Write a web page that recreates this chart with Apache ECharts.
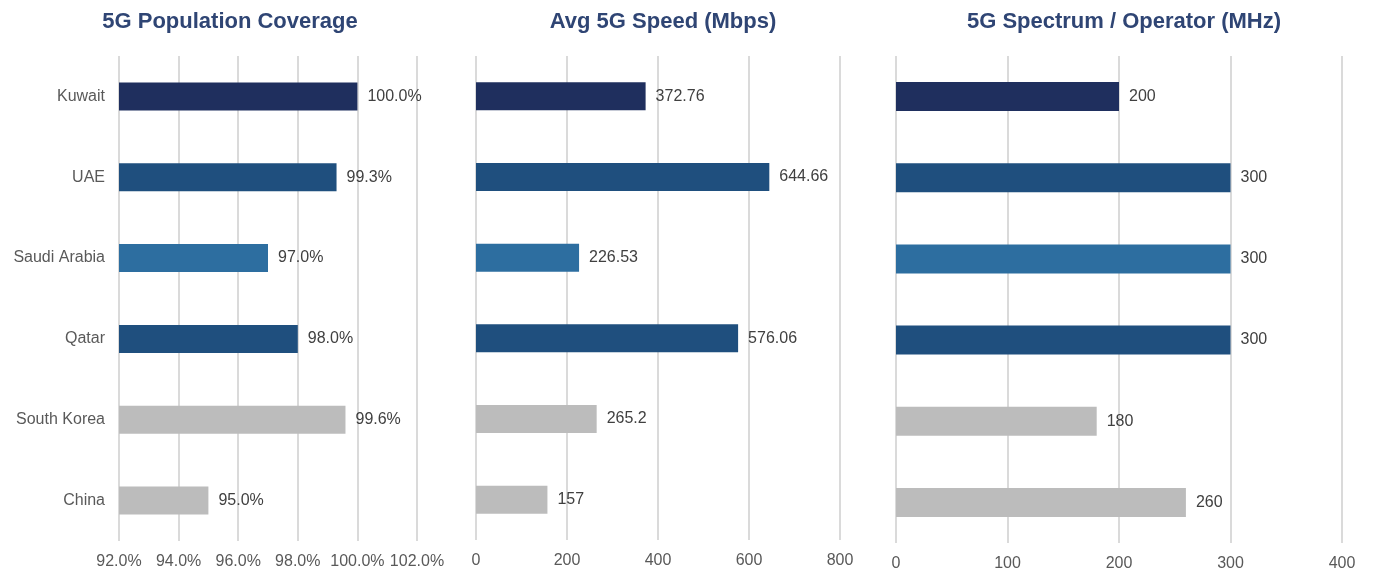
<!DOCTYPE html>
<html>
<head>
<meta charset="utf-8">
<script src="https://cdn.jsdelivr.net/npm/echarts@6/dist/echarts.min.js"></script>
<style>
html,body{margin:0;padding:0;background:#fff;}
#c{width:1373px;height:572px;}
</style>
</head>
<body>
<div id="c"></div>
<script>
const categories = ['Kuwait', 'UAE', 'Saudi Arabia', 'Qatar', 'South Korea', 'China'];
const coverage = [100.0, 99.3, 97.0, 98.0, 99.6, 95.0];
const speed = [372.76, 644.66, 226.53, 576.06, 265.2, 157];
const spectrum = [200, 300, 300, 300, 180, 260];
const barColors = ['#1f2f5e', '#1f4f7e', '#2d6ea0', '#1f4f7e', '#bcbcbc', '#bcbcbc'];
const titles = ['5G Population Coverage', 'Avg 5G Speed (Mbps)', '5G Spectrum / Operator (MHz)'];

const FONT = '"Liberation Sans", Arial, sans-serif';

const chart = echarts.init(document.getElementById('c'), null, {renderer: 'canvas'});

function dataOf(arr) {
  return arr.map((v, i) => ({value: v, itemStyle: {color: barColors[i]}}));
}

const grids = [
  {left: 119, width: 298, top: 56, height: 485},
  {left: 476, width: 364, top: 56, height: 484},
  {left: 896, width: 446, top: 56, height: 488}
];

const xAxes = [
  {min: 92, max: 102, interval: 2, fmt: v => v.toFixed(1) + '%'},
  {min: 0, max: 800, interval: 200, fmt: v => String(v)},
  {min: 0, max: 400, interval: 100, fmt: v => String(v)}
];

const labelFmt = [
  p => p.value.toFixed(1) + '%',
  p => String(p.value),
  p => String(p.value)
];

const series = [coverage, speed, spectrum];
const barW = [28, 28, 29];

const option = {
  animation: false,
  backgroundColor: '#ffffff',
  title: [
    {text: titles[0], left: 225, top: 6, textAlign: 'center'},
    {text: titles[1], left: 658, top: 6, textAlign: 'center'},
    {text: titles[2], left: 1119, top: 6, textAlign: 'center'}
  ].map(t => Object.assign(t, {textStyle: {color: '#2f4574', fontSize: 22, fontWeight: 'bold', fontFamily: FONT}})),
  grid: grids,
  xAxis: xAxes.map((a, i) => ({
    type: 'value', gridIndex: i, min: a.min, max: a.max, interval: a.interval,
    axisLine: {show: false}, axisTick: {show: false},
    axisLabel: {formatter: a.fmt, color: '#595959', fontSize: 16, fontFamily: FONT, margin: 13},
    splitLine: {show: true, lineStyle: {color: '#dadada', width: 2}}
  })),
  yAxis: [0, 1, 2].map(i => ({
    type: 'category', gridIndex: i, data: categories, inverse: true,
    axisLine: {show: false}, axisTick: {show: false},
    axisLabel: {show: i === 0, color: '#595959', fontSize: 16, fontFamily: FONT, margin: 14}
  })),
  series: series.map((arr, i) => ({
    type: 'bar', xAxisIndex: i, yAxisIndex: i, data: dataOf(arr), barWidth: barW[i],
    label: {show: true, position: 'right', distance: 10, formatter: labelFmt[i], color: '#404040', fontSize: 16, fontFamily: FONT}
  }))
};
chart.setOption(option);
</script>
</body>
</html>
